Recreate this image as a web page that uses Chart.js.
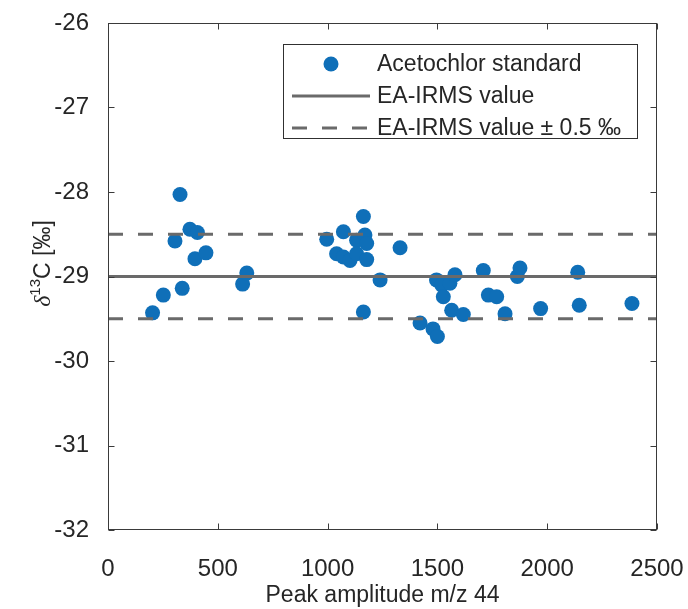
<!DOCTYPE html>
<html><head><meta charset="utf-8">
<script src="https://cdn.jsdelivr.net/npm/chart.js@4"></script>
<style>html,body{margin:0;padding:0;background:#fff}canvas{display:block}</style>
</head><body>
<canvas id="c" width="688" height="609"></canvas>
<script>
// ---- data ----
const peakAmplitude = [203, 252, 305, 328, 338, 373, 396, 407, 446, 613, 632,
  996, 1041, 1072, 1072, 1102, 1132, 1132, 1163, 1163, 1170, 1178, 1178, 1239, 1330,
  1421, 1480, 1496, 1500, 1520, 1527, 1557, 1565, 1580, 1618,
  1709, 1732, 1770, 1808, 1864, 1876, 1970, 2139, 2146, 2386];
const delta13C = [-29.43, -29.22, -28.58, -28.03, -29.14, -28.44, -28.79, -28.48, -28.72, -29.09, -28.96,
  -28.56, -28.73, -28.47, -28.77, -28.81, -28.57, -28.73, -28.29, -29.42, -28.51, -28.61, -28.80, -29.04, -28.66,
  -29.55, -29.62, -29.04, -29.71, -29.10, -29.24, -29.08, -29.40, -28.98, -29.45,
  -28.93, -29.22, -29.24, -29.44, -29.00, -28.90, -29.38, -28.95, -29.34, -29.32];
const eaIrmsValue = -29.0;
const tolerance = 0.5;
const xRange = [0, 2500];
const yRange = [-32, -26];
const xTickStep = 500;
const yTickStep = 1;
const seriesLabels = ['Acetochlor standard', 'EA-IRMS value', 'EA-IRMS value \u00B1 0.5 \u2030'];
const xTitle = 'Peak amplitude m/z 44';
const yTitleParts = ['\u03B4', '13', 'C [\u2030]'];

// ---- styles ----
const FONT = "'Liberation Sans', Arial, Helvetica, sans-serif";
const TEXT = '#262626';
const BLUE = '#0f6fb8';
const REFGRAY = '#6a6a6a';

const points = peakAmplitude.map((v, i) => ({x: v, y: delta13C[i]}));
const hline = (val) => xRange.map(v => ({x: v, y: val}));

const customPlugin = {
  id: 'matlabLook',
  afterDraw(chart) {
    const {ctx, chartArea: a, scales: {x, y}} = chart;
    ctx.save();
    // frame
    ctx.strokeStyle = '#3a3a3a';
    ctx.lineWidth = 1;
    const L = Math.round(a.left) + 0.5, R = Math.round(a.right) - 0.5;
    const T = Math.round(a.top) + 0.5, B = Math.round(a.bottom) - 0.5;
    ctx.strokeRect(L, T, R - L, B - T);
    // inward ticks on all sides
    const tl = 6;
    ctx.beginPath();
    x.ticks.forEach(t => {
      const px = Math.round(x.getPixelForValue(t.value)) + 0.5;
      ctx.moveTo(px, B); ctx.lineTo(px, B - tl);
      ctx.moveTo(px, T); ctx.lineTo(px, T + tl);
    });
    y.ticks.forEach(t => {
      const py = Math.round(y.getPixelForValue(t.value)) + 0.5;
      ctx.moveTo(L, py); ctx.lineTo(L + tl, py);
      ctx.moveTo(R, py); ctx.lineTo(R - tl, py);
    });
    ctx.stroke();

    // y axis title with italic delta and superscript
    ctx.save();
    ctx.fillStyle = TEXT;
    ctx.textBaseline = 'alphabetic';
    const parts = [
      {t: yTitleParts[0], f: "italic 24px 'Liberation Serif', 'DejaVu Serif', serif", dy: 0},
      {t: yTitleParts[1], f: '15px ' + FONT, dy: -10},
      {t: yTitleParts[2], f: '23px ' + FONT, dy: 0}
    ];
    let total = 0;
    parts.forEach(p => { ctx.font = p.f; p.w = ctx.measureText(p.t).width; total += p.w; });
    ctx.translate(a.left - 58, (a.top + a.bottom) / 2 - 13);
    ctx.rotate(-Math.PI / 2);
    let u = -total / 2;
    parts.forEach(p => { ctx.font = p.f; ctx.fillText(p.t, u, p.dy); u += p.w; });
    ctx.restore();

    // legend box
    const bx = a.right - 374, by = a.top + 21, bw = 354, bh = 94;
    ctx.fillStyle = '#ffffff';
    ctx.fillRect(bx, by, bw, bh);
    ctx.strokeStyle = '#303030';
    ctx.lineWidth = 1;
    ctx.strokeRect(Math.round(bx) + 0.5, Math.round(by) + 0.5, bw, bh);
    const items = chart.data.datasets.filter(d => d.showInLegend !== false);
    ctx.font = '23px ' + FONT;
    ctx.textBaseline = 'middle';
    items.forEach((d, i) => {
      const cy = by + 20 + i * 32;
      if (d.type === 'scatter' || !d.showLine) {
        ctx.fillStyle = d.pointBackgroundColor;
        ctx.beginPath();
        ctx.arc(bx + 48, cy, d.pointRadius, 0, Math.PI * 2);
        ctx.fill();
      } else {
        ctx.strokeStyle = d.borderColor;
        ctx.lineWidth = d.borderWidth;
        ctx.setLineDash(d.borderDash || []);
        ctx.beginPath();
        ctx.moveTo(bx + 9, cy); ctx.lineTo(bx + 87, cy);
        ctx.stroke();
        ctx.setLineDash([]);
      }
      ctx.fillStyle = TEXT;
      ctx.fillText(d.label, bx + 94, cy + 1);
    });
    ctx.restore();
  }
};

new Chart(document.getElementById('c'), {
  type: 'scatter',
  data: {
    datasets: [
      {type: 'scatter', label: seriesLabels[0], data: points, order: 2,
       pointRadius: 7.5, pointHoverRadius: 7.5, pointBackgroundColor: BLUE, pointBorderWidth: 0, borderWidth: 0},
      {type: 'line', label: seriesLabels[1], data: hline(eaIrmsValue), order: 1, showLine: true,
       borderColor: REFGRAY, borderWidth: 3, pointRadius: 0, fill: false},
      {type: 'line', label: seriesLabels[2], data: hline(eaIrmsValue + tolerance), order: 1, showLine: true,
       borderColor: REFGRAY, borderWidth: 3, borderDash: [15, 15], pointRadius: 0, fill: false},
      {type: 'line', label: seriesLabels[2], data: hline(eaIrmsValue - tolerance), order: 1, showLine: true,
       borderColor: REFGRAY, borderWidth: 3, borderDash: [15, 15], pointRadius: 0, fill: false, showInLegend: false}
    ]
  },
  options: {
    responsive: false,
    animation: false,
    devicePixelRatio: 1,
    layout: {padding: {top: 23, right: 31, left: 0, bottom: 0}},
    plugins: {legend: {display: false}, tooltip: {enabled: false}},
    scales: {
      x: {
        type: 'linear', min: xRange[0], max: xRange[1],
        grid: {display: false}, border: {display: false},
        ticks: {stepSize: xTickStep, color: TEXT, font: {family: FONT, size: 24}, padding: 17, maxRotation: 0,
                callback: v => String(v)},
        title: {display: true, text: xTitle, color: TEXT, font: {family: FONT, size: 23}, padding: {top: 0, bottom: 0}},
        afterFit: s => { s.height = 79; s.paddingLeft = 0; s.paddingRight = 0; }
      },
      y: {
        type: 'linear', min: yRange[0], max: yRange[1],
        grid: {display: false}, border: {display: false},
        ticks: {stepSize: yTickStep, color: TEXT, font: {family: FONT, size: 24}, padding: 11,
                callback: v => String(v)},
        afterFit: s => { s.width = 108; s.paddingTop = 0; s.paddingBottom = 0; }
      }
    }
  },
  plugins: [customPlugin]
});
</script>
</body></html>
